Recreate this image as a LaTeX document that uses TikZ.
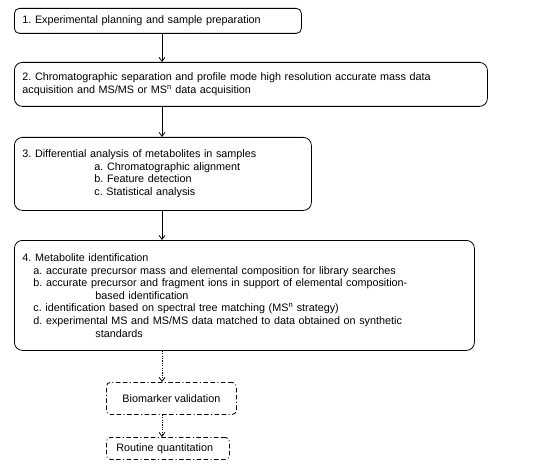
\documentclass[tikz,border=0pt]{standalone}
\usepackage{fontspec}
\setmainfont{Liberation Sans}
\usetikzlibrary{arrows.meta}
\frenchspacing
\begin{document}
\begin{tikzpicture}[x=1pt,y=-1pt,
  box/.style={draw, line width=0.8pt, rounded corners=8pt, anchor=north west, inner xsep=8pt, inner ysep=0pt, align=left, font=\fontsize{10.8}{12.6}\selectfont},
  dbox/.style={draw, line width=0.8pt, rounded corners=4pt, anchor=north west, inner xsep=8pt, inner ysep=0pt, font=\fontsize{10.8}{12.6}\selectfont, dash pattern=on 4.5pt off 2.5pt on 4.5pt off 2.5pt on 1pt off 2.5pt},
  arr/.style={line width=0.8pt, -{Straight Barb[length=4pt,width=6pt]}},
  darr/.style={line width=0.8pt, dash pattern=on 1.2pt off 1.2pt, -{Straight Barb[length=4pt,width=6pt]}}
]
\useasboundingbox (0,0) rectangle (537,470);
\coordinate (axis) at (162,0);
\node[box, rounded corners=5pt, text width=271pt, minimum height=25pt] (b1) at (14,8)
  {1. Experimental planning and sample preparation};
\node[box, text width=457pt, minimum height=44pt] (b2) at (14,62)
  {2. Chromatographic separation and profile mode high resolution accurate mass data\\
   acquisition and MS/MS or MS\textsuperscript{n} data acquisition};
\node[box, text width=281pt, minimum height=73pt] (b3) at (14,137)
  {3. Differential analysis of metabolites in samples\\
   \hspace*{72pt}a. Chromatographic alignment\\
   \hspace*{72pt}b. Feature detection\\
   \hspace*{72pt}c. Statistical analysis};
\node[box, text width=444pt, minimum height=110pt] (b4) at (14,240)
  {4. Metabolite identification\\
   \hspace*{11pt}a. accurate precursor mass and elemental composition for library searches\\
   \hspace*{11pt}b. accurate precursor and fragment ions in support of elemental composition-\\
   \hspace*{73pt}based identification\\
   \hspace*{11pt}c. identification based on spectral tree matching (MS\textsuperscript{n} strategy)\\
   \hspace*{11pt}d. experimental MS and MS/MS data matched to data obtained on synthetic\\
   \hspace*{73pt}standards};
\node[dbox, minimum width=130pt, minimum height=32pt] (b5) at (106,382) {Biomarker validation};
\node[dbox, minimum width=123pt, minimum height=22pt, inner xsep=10pt, align=left, text width=103pt] (b6) at (106,437) {Routine quantitation};
\draw[arr] (b1.south -| axis) -- (b2.north -| axis);
\draw[arr] (b2.south -| axis) -- (b3.north -| axis);
\draw[arr] (b3.south -| axis) -- (b4.north -| axis);
\draw[darr] (b4.south -| axis) -- (b5.north -| axis);
\draw[darr] (b5.south -| axis) -- (b6.north -| axis);
\end{tikzpicture}
\end{document}
